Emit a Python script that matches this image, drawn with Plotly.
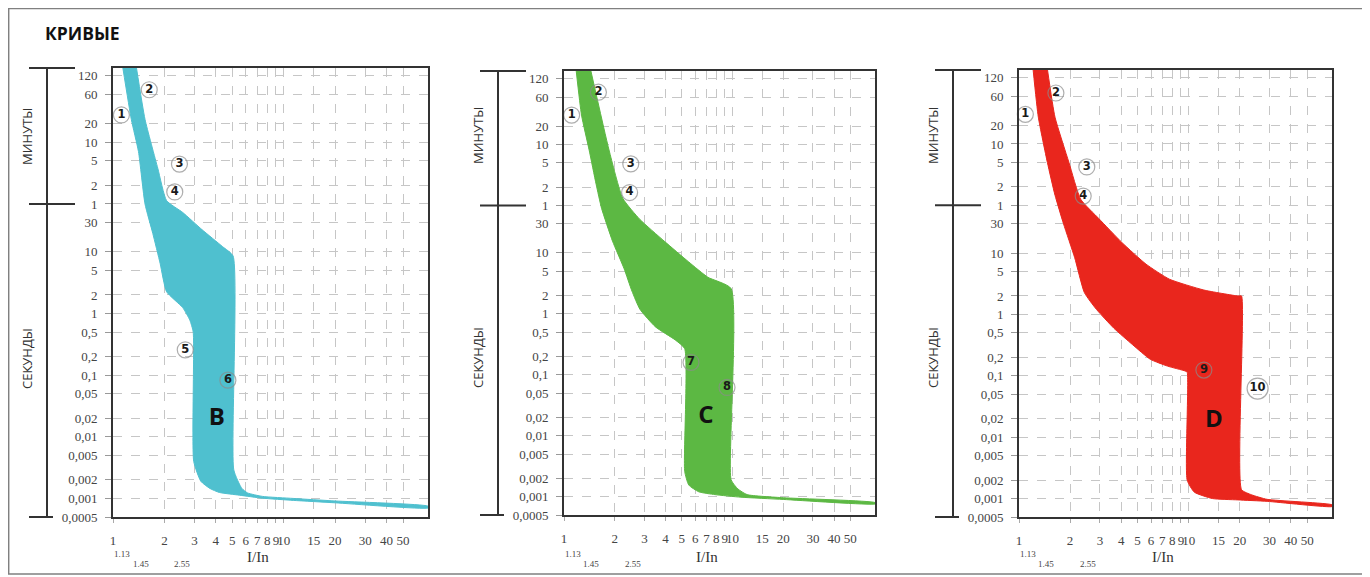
"""Time-current tripping curves B, C, D (three log-log panels)."""
import numpy as np
import plotly.graph_objects as go

W, H = 1370, 577
OFF = 8                      # default page margin around the plot div
FW, FH = W - OFF, H - OFF    # figure size that fits the window exactly

# ---- axis ticks -------------------------------------------------------------
X_TICKS = [1, 2, 3, 4, 5, 6, 7, 8, 9, 10, 15, 20, 30, 40, 50]
X_TICK_TEXT = [str(v) for v in X_TICKS]
X_SUB_TICKS = [1.13, 1.45, 2.55]
X_SUB_TEXT = ["1.13", "1.45", "2.55"]

# y axis is time in seconds; upper part labelled in minutes
Y_TICKS = [7200, 3600, 1200, 600, 300, 120, 60, 30, 10, 5, 2, 1, 0.5, 0.2, 0.1,
           0.05, 0.02, 0.01, 0.005, 0.002, 0.001, 0.0005]
Y_TICK_TEXT = ["120", "60", "20", "10", "5", "2", "1", "30", "10", "5", "2", "1",
               "0,5", "0,2", "0,1", "0,05", "0,02", "0,01", "0,005", "0,002",
               "0,001", "0,0005"]
MINUTE_SPLIT = 60  # 1 min boundary between МИНУТЫ and СЕКУНДЫ

# ---- curve B (I/In, seconds) ------------------------------------------------
B_LEFT_X = [1.14, 1.28, 1.41, 1.54, 1.71, 1.89, 2.06, 2.56, 2.82, 2.95, 2.97,
            3.27, 3.7, 4.2, 5.5, 7.5, 11.4, 20, 70]
B_LEFT_T = [10000, 1416, 424, 60, 20, 6.45, 2.26, 1.25, 0.78, 0.5, 0.004,
            0.0019, 0.00145, 0.00125, 0.00113, 0.00101, 0.00093, 0.00085, 0.0007]
B_RIGHT_X = [1.37, 1.54, 1.83, 2.06, 2.56, 3.32, 4.38, 5.05, 5.1, 5.68, 6.14,
             7.5, 11.4, 20, 70]
B_RIGHT_T = [10000, 1416, 227, 68, 43.7, 23, 12.2, 8.6, 0.0029, 0.00146,
             0.00123, 0.00108, 0.001, 0.00091, 0.00075]
B_MARK_TEXT = ["1", "2", "3", "4", "5", "6"]
B_MARK_X = [1.12, 1.63, 2.45, 2.30, 2.65, 4.71]
B_MARK_T = [1667, 4280, 266, 94, 0.258, 0.083]
B_LETTER_X, B_LETTER_T = 4.06, 0.0195

# ---- curve C ----------------------------------------------------------------
C_LEFT_X = [1.18, 1.27, 1.41, 1.55, 1.67, 1.94, 2.27, 2.53, 2.82, 3.49, 4.57,
            5.2, 5.2, 5.5, 6.31, 7.86, 11.2, 20, 70]
C_LEFT_T = [10000, 1824, 487, 135, 54, 15.6, 5.55, 2.36, 1.19, 0.61, 0.373,
            0.268, 0.0026, 0.00155, 0.0012, 0.00108, 0.00098, 0.0009, 0.00076]
C_RIGHT_X = [1.44, 1.85, 2.23, 2.82, 3.93, 5.5, 7.14, 9.8, 9.8, 10.75, 12.2,
             20, 70]
C_RIGHT_T = [10000, 487, 79, 35.4, 15.6, 7.08, 3.98, 2.6, 0.0019, 0.00134,
             0.00108, 0.00096, 0.0008]
C_MARK_TEXT = ["1", "2", "3", "4", "7", "8"]
C_MARK_X = [1.11, 1.60, 2.49, 2.45, 5.67, 9.27]
C_MARK_T = [1824, 4325, 288, 97.7, 0.16, 0.062]
C_LETTER_X, C_LETTER_T = 6.94, 0.02

# ---- curve D ----------------------------------------------------------------
D_LEFT_X = [1.21, 1.30, 1.47, 1.63, 1.83, 2.13, 2.43, 2.86, 3.63, 4.67, 5.94,
            7.5, 9.53, 9.8, 9.8, 10.8, 13.8, 19.5, 29, 70]
D_LEFT_T = [10000, 1641, 300, 88, 30, 8.4, 2.27, 1.21, 0.594, 0.322, 0.186,
            0.144, 0.12, 0.115, 0.002, 0.00127, 0.001, 0.00095, 0.0009, 0.00074]
D_RIGHT_X = [1.47, 1.63, 1.97, 2.31, 2.95, 4.05, 5.61, 7.7, 12.3, 19.5, 20.5,
             20.5, 23.5, 29, 70]
D_RIGHT_T = [10000, 1641, 300, 75.5, 36.7, 14.8, 6.6, 3.76, 2.5, 2.0, 2.0,
             0.0014, 0.00115, 0.00097, 0.00079]
D_MARK_TEXT = ["1", "2", "3", "4", "9", "10"]
D_MARK_X = [1.09, 1.65, 2.51, 2.39, 12.3, 25.5]
D_MARK_T = [1824, 4067, 254, 85, 0.124, 0.062]
D_LETTER_X, D_LETTER_T = 14.1, 0.0186

# ---- layout per panel (page pixel boxes: left, right, top, bottom) -----------
panels = [
    dict(name="B", color="#4fc0cf", box=(113, 428, 68, 517),
         left=(B_LEFT_X, B_LEFT_T), right=(B_RIGHT_X, B_RIGHT_T),
         marks=(B_MARK_TEXT, B_MARK_X, B_MARK_T), letter=(B_LETTER_X, B_LETTER_T)),
    dict(name="C", color="#5cb843", box=(564, 875, 71, 515),
         left=(C_LEFT_X, C_LEFT_T), right=(C_RIGHT_X, C_RIGHT_T),
         marks=(C_MARK_TEXT, C_MARK_X, C_MARK_T), letter=(C_LETTER_X, C_LETTER_T)),
    dict(name="D", color="#e9261d", box=(1019, 1332, 70, 517),
         left=(D_LEFT_X, D_LEFT_T), right=(D_RIGHT_X, D_RIGHT_T),
         marks=(D_MARK_TEXT, D_MARK_X, D_MARK_T), letter=(D_LETTER_X, D_LETTER_T)),
]

SERIF = "Liberation Serif"
SANS = "Open Sans"
X_RANGE = [0, np.log10(70)]
Y_RANGE = [np.log10(0.0005), 3.984]


def px(x):
    return (x - OFF) / FW


def py(y):
    return 1 - (y - OFF) / FH


fig = go.Figure()
layout = {}
shapes = [dict(type="rect", xref="paper", yref="paper", x0=0.0005, x1=px(1365),
               y0=py(574), y1=0.999, line=dict(color="#808080", width=1.5))]
annotations = [dict(text="<b>КРИВЫЕ</b>", xref="paper", yref="paper", x=px(43),
                    y=py(33), xanchor="left", yanchor="middle", showarrow=False,
                    font=dict(family=SANS, size=17.5, color="#111"))]

for i, p in enumerate(panels):
    n = "" if i == 0 else str(i + 1)
    xr, yr = "x" + n, "y" + n
    x0, x1, top, bot = p["box"]
    pw = x1 - x0

    lx, lt = p["left"]
    rx, rt = p["right"]
    fig.add_trace(go.Scatter(
        x=list(lx) + list(rx)[::-1], y=list(lt) + list(rt)[::-1],
        mode="lines", fill="toself", fillcolor=p["color"],
        line=dict(color=p["color"], width=1, shape="spline", smoothing=0.5),
        hoverinfo="skip", showlegend=False, xaxis=xr, yaxis=yr))

    txt, mx, mt = p["marks"]
    fig.add_trace(go.Scatter(
        x=mx, y=mt, mode="markers+text", text=[f"<b>{s}</b>" for s in txt],
        textposition="middle center", cliponaxis=False,
        marker=dict(size=[16 if len(s) == 1 else 21 for s in txt],
                    color="rgba(255,255,255,0)",
                    line=dict(color="#8c8c8c", width=1.2)),
        textfont=dict(family="DejaVu Sans", size=11.5, color="#1a1a1a"),
        hoverinfo="skip", showlegend=False, xaxis=xr, yaxis=yr))

    lx0, lt0 = p["letter"]
    fig.add_trace(go.Scatter(
        x=[lx0], y=[lt0], mode="text", text=[f"<b>{p['name']}</b>"],
        textposition="middle center",
        textfont=dict(family=SANS, size=24, color="#111"),
        hoverinfo="skip", showlegend=False, xaxis=xr, yaxis=yr))

    layout["xaxis" + n] = dict(
        type="log", range=X_RANGE, domain=[px(x0), px(x1)], anchor=yr,
        tickvals=X_TICKS, ticktext=X_TICK_TEXT, ticks="outside", ticklen=4,
        tickcolor="#aaaaaa", ticklabelstandoff=6, tickangle=0, automargin=False,
        tickfont=dict(family=SERIF, size=13, color="#444"),
        showline=True, mirror=True, linecolor="#333", linewidth=2,
        showgrid=True, gridcolor="#c6c6c6", griddash="dash", gridwidth=1,
        zeroline=False, fixedrange=True)
    layout["yaxis" + n] = dict(
        type="log", range=Y_RANGE, domain=[py(bot), py(top)], anchor=xr,
        tickvals=Y_TICKS, ticktext=Y_TICK_TEXT, ticks="outside", ticklen=6,
        tickcolor="#999999", ticklabelstandoff=5, automargin=False,
        tickfont=dict(family=SERIF, size=13, color="#444"),
        showline=True, mirror=True, linecolor="#333", linewidth=2,
        showgrid=True, gridcolor="#c6c6c6", griddash="dash", gridwidth=1,
        zeroline=False, fixedrange=True)

    # minute / second brackets left of the y ticks
    xd, yd = xr + " domain", yr + " domain"
    bl = dict(color="#333", width=2)
    shapes += [
        dict(type="line", xref=xd, yref=yd, x0=-66 / pw, x1=-66 / pw, y0=0, y1=1, line=bl),
        dict(type="line", xref=xd, yref=yd, x0=-84 / pw, x1=-38 / pw, y0=1, y1=1, line=bl),
        dict(type="line", xref=xd, yref=yr, x0=-84 / pw, x1=-38 / pw,
             y0=MINUTE_SPLIT, y1=MINUTE_SPLIT, line=bl),
        dict(type="line", xref=xd, yref=yd, x0=-84 / pw, x1=-60 / pw, y0=0, y1=0, line=bl),
    ]
    lab = dict(family=SANS, size=13, color="#333")
    annotations += [
        dict(text="МИНУТЫ", xref=xd, yref="paper", x=-86 / pw, y=py(136),
             xanchor="center", yanchor="middle", textangle=-90, showarrow=False, font=lab),
        dict(text="СЕКУНДЫ", xref=xd, yref="paper", x=-86 / pw, y=py(358),
             xanchor="center", yanchor="middle", textangle=-90, showarrow=False, font=lab),
        dict(text="I/In", xref=xd, yref="paper", x=0.46, y=py(557),
             xanchor="center", yanchor="middle", showarrow=False,
             font=dict(family=SERIF, size=15, color="#333")),
    ]
    for j, (v, t) in enumerate(zip(X_SUB_TICKS, X_SUB_TEXT)):
        annotations.append(dict(
            text=t, xref=xr, yref="paper", x=np.log10(v),
            y=py(554 if j == 0 else 564), xanchor="center", yanchor="middle",
            showarrow=False, font=dict(family=SERIF, size=9, color="#444")))

fig.update_layout(
    width=FW, height=FH,
    margin=dict(l=0, r=0, t=0, b=0, pad=0, autoexpand=False),
    paper_bgcolor="white", plot_bgcolor="white", hovermode=False,
    shapes=shapes, annotations=annotations, **layout)

fig.write_html("out.html")
